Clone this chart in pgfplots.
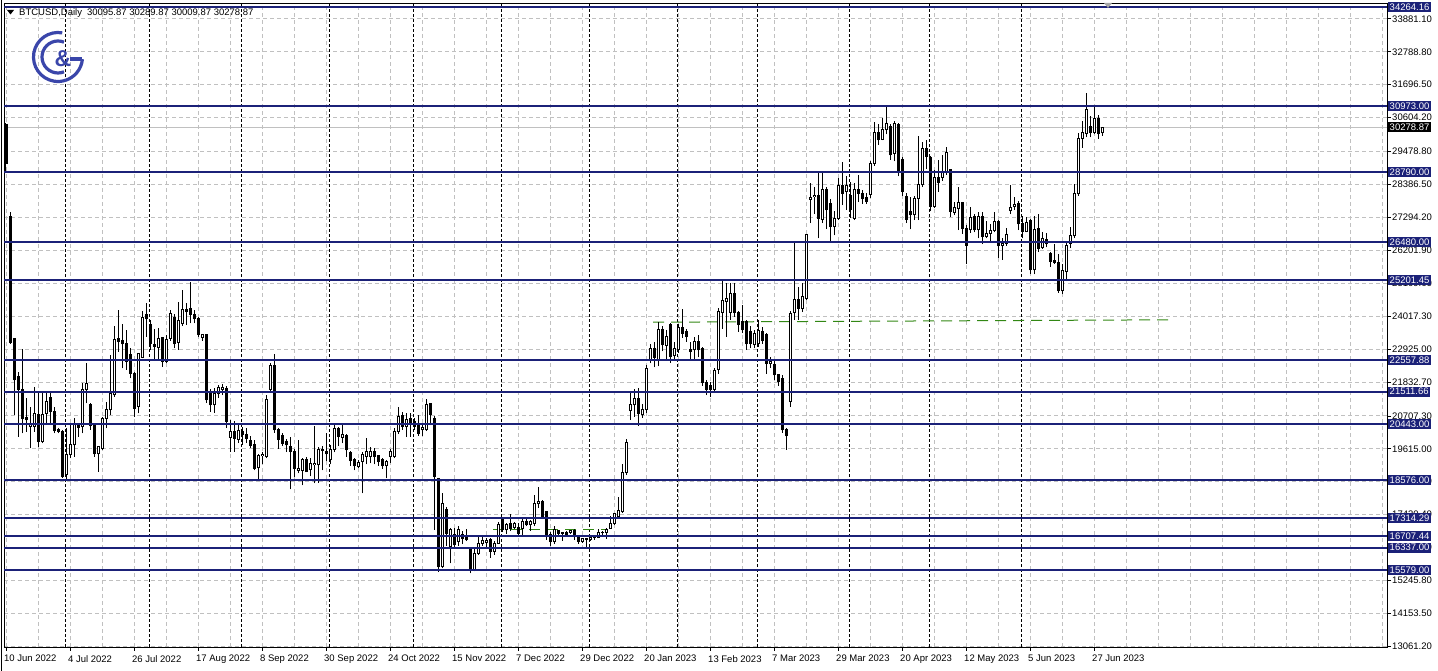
\documentclass[border=0pt]{standalone}
\usepackage{fontspec}
\setmainfont{Liberation Sans}
\usepackage{pgfplots}
\usepackage{pgfplotstable}
\pgfplotsset{compat=1.18}

\definecolor{navyl}{RGB}{27,33,120}
\definecolor{gridc}{RGB}{192,192,192}
\definecolor{trend}{RGB}{50,135,20}
\definecolor{logoblue}{RGB}{58,70,170}

\pgfplotstableread{
i O H L C
0 30359 30420 28811 29087
1 27318 27484 23100 23137
2 23281 23290 20737 21898
3 22009 22150 20018 21567
4 21589 22916 20129 20627
5 20649 21290 20184 20571
6 20350 21014 19631 20461
7 20350 21677 20184 20792
8 20737 21456 19686 19852
9 19852 21456 19797 20737
10 20792 21456 20405 21179
11 21323 21478 20461 20848
12 20848 21014 20129 20206
13 20262 20295 20129 20184
14 20184 20239 18650 18691
15 18746 20295 18580 19410
16 19410 20461 19299 19742
17 19742 20627 19355 20405
18 20405 20461 20018 20328
19 20350 21788 20129 21567
20 21567 22451 21124 21788
21 21069 21124 20239 20372
22 20372 20405 19355 19443
23 19443 19700 18857 19686
24 19631 20682 19576 20627
25 20627 21179 20295 20903
26 20903 22728 20737 21456
27 21401 23690 21350 23248
28 23260 24221 22838 23170
29 23225 23745 22285 23093
30 23093 23557 22230 22507
31 22728 22949 21954 22120
32 22097 22150 20682 20958
33 21013 22790 20792 22761
34 22650 24199 22617 23978
35 24055 24442 23336 23922
36 23745 23889 22894 23115
37 23060 23579 22584 23004
38 22982 23613 22562 23281
39 23314 23336 22341 22507
40 22507 23400 22450 23250
41 23281 24221 23200 24088
42 23978 24100 22950 23093
43 23137 24497 22900 23867
44 23757 24884 23700 24221
45 24243 24442 23723 24166
46 24254 25161 23779 24055
47 24055 24221 23779 23922
48 23944 24000 23336 23413
49 23303 23420 23200 23391
50 23391 23420 21150 21235
51 21511 21600 20848 21069
52 21069 21622 20814 21456
53 21434 21720 21300 21655
54 21567 21750 21400 21655
55 21622 21700 20300 20520
56 19996 20571 19520 20184
57 20184 20549 19520 19963
58 19930 20400 19800 20206
59 20184 20350 19750 20074
60 20074 20300 19800 19963
61 19885 20050 19650 19720
62 19742 19900 18900 18967
63 18980 19443 18580 19377
64 19377 19500 19100 19432
65 19355 21400 19300 21257
66 21589 22451 21500 22363
67 22363 22761 20150 20239
68 20239 20300 19609 19930
69 20040 20150 19700 19797
70 19852 19950 19520 19742
71 19686 19996 18270 19520
72 19520 19600 18690 18967
73 18890 19900 18800 18967
74 18890 19300 18400 19244
75 19266 19350 18840 18857
76 18912 19300 18700 19133
77 19078 20372 18470 19133
78 19078 19686 18492 19576
79 19570 19700 18900 19600
80 19510 20150 19200 19443
81 19244 19750 19100 19598
82 19598 20430 19500 20294
83 20295 20350 19700 20018
84 19996 20405 19797 20073
85 20040 20100 19355 19576
86 19487 19550 19050 19222
87 19266 19300 18900 19045
88 19023 19250 18990 19156
89 19189 19520 18138 19410
90 19354 19963 19100 19520
91 19354 19686 19133 19542
92 19542 19650 19100 19354
93 19377 19400 19050 19189
94 19244 19300 18950 19045
95 19045 19250 18636 19189
96 19354 19600 19150 19520
97 19354 20300 19300 20184
98 20184 21013 20100 20682
99 20704 20848 20239 20350
100 20350 20792 20000 20593
101 20626 20815 20018 20461
102 20516 20650 20250 20350
103 20461 20750 20050 20129
104 20239 20400 20050 20327
105 20239 21257 20200 21069
106 21102 21150 20400 20737
107 20626 20700 16921 18691
108 18636 18650 15539 15705
109 15705 18150 15650 17806
110 17600 17700 16400 16800
111 16368 16977 15815 16921
112 16755 17000 16300 16424
113 16534 17050 16400 16921
114 16755 16900 16450 16645
115 16700 16950 16550 16590
116 16258 16300 15484 15616
117 15616 16300 15550 16147
118 16147 16700 16100 16479
119 16479 16750 16400 16567
120 16500 16650 16350 16567
121 16590 16650 16000 16203
122 16203 16550 16100 16479
123 16479 17200 16450 17087
124 17253 17350 16850 16921
125 16921 17150 16800 17087
126 17120 17450 16880 16977
127 17010 17200 16950 17143
128 17010 17150 16700 16811
129 16977 17300 16750 17198
130 17198 17350 17050 17087
131 17087 17250 16900 17198
132 17143 18083 17050 17806
133 17784 18359 17650 17861
134 17861 17900 17280 17364
135 17530 17550 16600 16755
136 16755 16850 16400 16534
137 16534 17050 16450 16921
138 16900 16910 16750 16820
139 16820 16860 16560 16830
140 16830 16900 16770 16780
141 16840 16930 16790 16920
142 16920 16960 16590 16700
143 16700 16770 16470 16540
144 16540 16640 16490 16630
145 16630 16640 16330 16600
146 16620 16760 16570 16680
147 16680 16760 16600 16670
148 16670 16970 16660 16850
149 16850 16880 16750 16830
150 16830 16990 16630 16950
151 16980 17390 16960 17150
152 17142 17500 17100 17474
153 17364 18000 17300 17563
154 17530 19100 17500 18824
155 18824 19950 18750 19819
156 20881 21456 20571 21091
157 21069 21589 20682 21290
158 21290 21622 20372 20770
159 20737 21100 20650 20903
160 20903 22400 20800 22285
161 22562 23100 22450 22949
162 22949 23170 22318 22650
163 22540 23812 22350 23580
164 23580 23700 22850 23060
165 23050 23550 22600 23350
166 23745 23779 22473 22672
167 22700 23150 22600 22950
168 22894 23750 22800 23645
169 23645 24243 23300 23447
170 23502 23600 23170 23336
171 22894 23170 22562 22838
172 22894 23336 22562 23170
173 23170 23400 22650 22894
174 22949 23000 21700 21810
175 21810 21900 21400 21589
176 21700 21843 21345 21589
177 21589 22300 21500 22208
178 22230 24300 22100 24166
179 24132 25238 23600 24520
180 24498 25106 23336 24586
181 24132 25128 23900 24752
182 24752 25106 24000 24132
183 24132 24200 23500 23745
184 23834 24400 23450 23557
185 23834 23900 22900 23093
186 23502 23700 22950 23093
187 23060 23550 22950 23447
188 23093 23900 23000 23524
189 23502 23650 23100 23225
190 23391 23450 22100 22451
191 22429 22650 22300 22518
192 22396 22600 21900 22064
193 22064 22100 21700 21843
194 21954 22050 20150 20239
195 20239 20300 19576 20040
196 21179 24200 21000 24110
197 24132 26433 23900 24553
198 24575 25000 23900 24276
199 24276 25100 24150 24663
200 24608 26750 24550 26709
201 27893 28424 27100 27960
202 27981 28300 27400 28036
203 28036 28811 26599 27262
204 27229 28800 27100 28225
205 28203 28300 26900 27539
206 27738 27900 26488 26986
207 26986 27500 26700 27262
208 27262 28590 27200 28335
209 28335 29143 27700 28092
210 28147 28650 27550 28335
211 28003 28480 27280 27539
212 27262 28440 27200 28203
213 28203 28700 27800 28092
214 28092 28200 27730 27926
215 27948 28100 27750 27815
216 28059 29150 27950 29065
217 29087 30450 29000 30105
218 30105 30400 29700 29862
219 29884 30600 29850 30193
220 30193 30968 30050 30393
221 30304 30400 29200 29364
222 29419 30500 29150 30415
223 30359 30420 28650 28811
224 29198 29300 28000 28147
225 27981 28100 27100 27229
226 27484 27981 26898 27373
227 27373 28000 27200 27926
228 27926 29994 27200 28369
229 28369 29800 28300 29585
230 29585 29860 28900 29308
231 29286 29330 27500 27649
232 27671 28880 27600 28623
233 28623 29200 28150 28446
234 28623 29370 28500 28811
235 28811 29640 28700 29441
236 28866 28900 27300 27484
237 27450 27800 27370 27627
238 27594 28300 26870 27782
239 27782 27800 26750 26930
240 26930 27050 25747 26377
241 26875 27650 26780 27295
242 27317 27400 26800 26875
243 26875 27460 26600 27317
244 27317 27480 26420 26654
245 26654 27190 26600 26765
246 26765 27060 26520 26843
247 26853 27480 26800 27151
248 27152 27200 25950 26350
249 26350 26620 25880 26430
250 26433 26930 26350 26709
251 27517 28368 27400 27627
252 27649 27981 27550 27705
253 27738 27830 26870 27074
254 27074 27330 26600 26820
255 26820 27300 26800 27118
256 27185 27250 25420 25548
257 25548 27350 25400 26897
258 26930 27400 26140 26267
259 26289 26800 26250 26599
260 26565 26780 26300 26411
261 26079 26150 25650 25825
262 25858 26400 25750 25791
263 25791 26080 24800 24862
264 24862 25750 24750 25515
265 25493 26460 25180 26377
266 26433 26990 26270 26676
267 26676 28400 26600 28092
268 28070 30100 28000 29917
269 29917 30500 29600 30105
270 30083 31432 29950 30857
271 30304 30650 29950 30105
272 30105 31000 30050 30580
273 30580 30700 29900 30061
274 30095.87 30289.87 30009.87 30278.87
}\ohlc

\begin{document}
\begin{tikzpicture}[font=\fontsize{9.5}{11}\selectfont]
\useasboundingbox (-4pt,-24pt) rectangle (1434pt,647pt);
\begin{axis}[
  at={(0pt,0pt)}, anchor=south west,
  width=1383pt, height=644pt, scale only axis,
  xmin=-0.5, xmax=345.25, ymin=13039, ymax=34407,
  scaled x ticks=false, scaled y ticks=false,
  axis line style={black, line width=0.8pt},
  tick align=outside,
  major tick length=4pt,
  tick style={black, line width=0.7pt},
  xtick pos=bottom, ytick pos=right, yticklabel pos=right,
  xtick={0,16,...,272},
  xticklabels={10 Jun 2022,4 Jul 2022,26 Jul 2022,17 Aug 2022,8 Sep 2022,30 Sep 2022,24 Oct 2022,15 Nov 2022,7 Dec 2022,29 Dec 2022,20 Jan 2023,13 Feb 2023,7 Mar 2023,29 Mar 2023,20 Apr 2023,12 May 2023,5 Jun 2023,27 Jun 2023},
  minor xtick={8,24,40,56,72,88,104,120,136,152,168,184,200,216,232,248,264,280,288,296,304,312,320,328,336,344},
  minor tick length=0pt,
  ytick={13061.20,14153.50,15245.80,16338.10,17430.40,18522.70,19615.00,20707.30,21832.70,22925.00,24017.30,25109.60,26201.90,27294.20,28386.50,29478.80,30604.20,31696.50,32788.80,33881.10},
  yticklabels={13061.20,14153.50,15245.80,16338.10,17430.40,18522.70,19615.00,20707.30,21832.70,22925.00,24017.30,25109.60,26201.90,27294.20,28386.50,29478.80,30604.20,31696.50,32788.80,33881.10},
  tick label style={font=\fontsize{9.5}{11}\selectfont, black},
  xticklabel style={anchor=north west, xshift=-3pt, yshift=-3pt, inner sep=1pt},
  yticklabel style={anchor=west, inner sep=1pt},
  xmajorgrids, xminorgrids, ymajorgrids,
  major grid style={gridc, dash pattern=on 4pt off 3pt, line width=0.8pt},
  minor grid style={gridc, dash pattern=on 4pt off 3pt, line width=0.8pt},
]
% month separators
\addplot[ycomb, black, dash pattern=on 3pt off 2pt, line width=0.8pt, mark=none, forget plot]
  coordinates {(14.75,34407) (35.75,34407) (58.75,34407) (80.75,34407) (101.75,34407) (123.75,34407) (145.75,34407) (167.75,34407) (187.75,34407) (210.75,34407) (230.75,34407) (253.75,34407)};
% bid line
\addplot[gridc, line width=1pt, mark=none, forget plot] coordinates {(-0.5,30278.87) (345.25,30278.87)};
% green dashed lines
\addplot[trend, dash pattern=on 11pt off 7pt, line width=1pt, mark=none, forget plot] coordinates {(161.75,23815) (290.5,23895)};
\addplot[trend, dash pattern=on 11pt off 7pt, line width=1pt, mark=none, forget plot] coordinates {(121.75,17286) (150.25,17286)};
\addplot[trend, dash pattern=on 11pt off 7pt, line width=1pt, mark=none, forget plot] coordinates {(121.75,16945) (150.25,16945)};
% wicks
\addplot[draw=none, mark=none, forget plot,
  error bars/.cd, y dir=plus, y explicit, error mark=none,
  error bar style={draw=black, solid, line width=1pt, line cap=butt}]
  table[x=i, y=L, y error expr=\thisrow{H}-\thisrow{L}] {\ohlc};
% bodies (black outline / black fill)
\addplot[draw=none, mark=none, forget plot,
  error bars/.cd, y dir=plus, y explicit, error mark=none,
  error bar style={draw=black, solid, line width=3pt, line cap=butt}]
  table[x=i, y expr={min(\thisrow{O},\thisrow{C})-16.6}, y error expr={abs(\thisrow{C}-\thisrow{O})+33.2}] {\ohlc};
% white interior of bullish bodies
\addplot[draw=none, mark=none, forget plot,
  error bars/.cd, y dir=plus, y explicit, error mark=none,
  error bar style={draw=white, solid, line width=1pt, line cap=butt}]
  table[x=i, y expr={\thisrow{O}+16.6}, y error expr={max(\thisrow{C}-\thisrow{O}-33.2,0)}] {\ohlc};
% navy horizontal levels
\pgfplotsinvokeforeach{34264.16,30973.00,28790.00,26480.00,25201.45,22557.88,21511.66,20443.00,18576.00,17314.29,16707.44,16337.00,15579.00}{
  \addplot[navyl, line width=2pt, mark=none, forget plot] coordinates {(-0.5,#1) (345.25,#1)};
}
\coordinate (h1) at (axis cs:345.25,34264.16);
\coordinate (h2) at (axis cs:345.25,30973.00);
\coordinate (h3) at (axis cs:345.25,28790.00);
\coordinate (h4) at (axis cs:345.25,26480.00);
\coordinate (h5) at (axis cs:345.25,25201.45);
\coordinate (h6) at (axis cs:345.25,22557.88);
\coordinate (h7) at (axis cs:345.25,21511.66);
\coordinate (h8) at (axis cs:345.25,20443.00);
\coordinate (h9) at (axis cs:345.25,18576.00);
\coordinate (h10) at (axis cs:345.25,17314.29);
\coordinate (h11) at (axis cs:345.25,16707.44);
\coordinate (h12) at (axis cs:345.25,16337.00);
\coordinate (h13) at (axis cs:345.25,15579.00);
\coordinate (hb) at (axis cs:345.25,30278.87);
\end{axis}
% price boxes
\tikzset{lbl/.style={fill=navyl, text=white, anchor=west, inner xsep=1.5pt, inner ysep=0pt, minimum height=10pt, font=\fontsize{9.5}{11}\selectfont}}
\node[lbl] at ([xshift=1pt]h1) {34264.16};
\node[lbl] at ([xshift=1pt]h2) {30973.00};
\node[lbl, fill=black] at ([xshift=1pt]hb) {30278.87};
\node[lbl] at ([xshift=1pt]h3) {28790.00};
\node[lbl] at ([xshift=1pt]h4) {26480.00};
\node[lbl] at ([xshift=1pt]h5) {25201.45};
\node[lbl] at ([xshift=1pt]h6) {22557.88};
\node[lbl] at ([xshift=1pt]h7) {21511.66};
\node[lbl] at ([xshift=1pt]h8) {20443.00};
\node[lbl] at ([xshift=1pt]h9) {18576.00};
\node[lbl] at ([xshift=1pt]h10) {17314.29};
\node[lbl] at ([xshift=1pt]h11) {16707.44};
\node[lbl] at ([xshift=1pt]h12) {16337.00};
\node[lbl] at ([xshift=1pt]h13) {15579.00};
% outer left border
\draw[black, line width=0.8pt] (-2.5pt,-24pt) -- (-2.5pt,647pt);
% header
\fill[black] (3pt,637pt) -- (10pt,637pt) -- (6.5pt,632.5pt) -- cycle;
\node[anchor=base west, inner sep=0pt] at (15pt,631pt) {BTCUSD,Daily\hspace{5pt}30095.87 30289.87 30009.87 30278.87};
% chart shift marker
\fill[gray!70] (1100pt,644pt) -- (1108pt,644pt) -- (1104pt,639pt) -- cycle;
% logo
\draw[logoblue, line width=3.2pt] (54pt,590pt) ++(80:24.5pt) arc[start angle=80, end angle=355, radius=24.5pt];
\draw[logoblue, line width=3.2pt] (78.4pt,587.9pt) -- (66pt,587.9pt);
\draw[logoblue, line width=3.2pt] (54pt,590pt) ++(68:16pt) arc[start angle=68, end angle=292, radius=16pt];
\node[logoblue, inner sep=0pt, font=\fontsize{23}{23}\selectfont\bfseries] at (59pt,588pt) {\&};
\end{tikzpicture}
\end{document}
